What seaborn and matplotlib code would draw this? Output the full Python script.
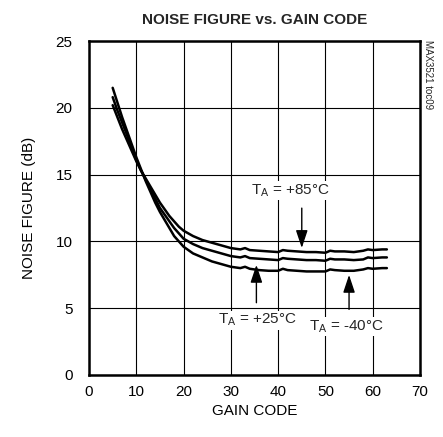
import pandas as pd
import matplotlib.pyplot as plt
import seaborn as sns
from matplotlib import font_manager

sns.set_theme(style="white")
fams = {f.name for f in font_manager.fontManager.ttflist}
base_font = "Liberation Sans Narrow" if "Liberation Sans Narrow" in fams else "Liberation Sans"
plt.rcParams["font.family"] = [base_font, "DejaVu Sans"]
plt.rcParams["mathtext.fontset"] = "custom"
plt.rcParams["mathtext.rm"] = base_font
plt.rcParams["mathtext.it"] = base_font

# gain code points
gain_code = [5, 6, 7, 8, 9, 10, 11, 12, 13, 14, 15, 16, 17, 18, 19, 20, 22, 24, 26, 28, 30,
             32, 33, 34, 36, 38, 40, 41, 42, 44, 46, 48, 50, 51, 52, 54, 56, 58, 59, 60, 62, 63]

nf_85 = [20.2, 19.3, 18.4, 17.6, 16.8, 16.0, 15.3, 14.7, 14.1, 13.5, 12.9, 12.4, 11.9, 11.5, 11.1,
         10.8, 10.4, 10.1, 9.9, 9.7, 9.5, 9.4, 9.5, 9.35, 9.3, 9.25, 9.2, 9.35, 9.3, 9.25, 9.2,
         9.2, 9.15, 9.3, 9.25, 9.25, 9.2, 9.3, 9.4, 9.35, 9.4, 9.4]
nf_25 = [20.8, 19.8, 18.9, 18.0, 17.0, 16.1, 15.3, 14.6, 13.9, 13.2, 12.5, 12.0, 11.5, 11.0, 10.6,
         10.2, 9.8, 9.5, 9.3, 9.1, 8.9, 8.8, 8.9, 8.75, 8.7, 8.65, 8.6, 8.75, 8.7, 8.65, 8.6,
         8.6, 8.55, 8.7, 8.65, 8.65, 8.6, 8.65, 8.8, 8.75, 8.8, 8.8]
nf_m40 = [21.5, 20.4, 19.3, 18.3, 17.3, 16.3, 15.4, 14.5, 13.7, 12.9, 12.2, 11.6, 11.0, 10.4, 10.0,
          9.6, 9.1, 8.8, 8.5, 8.3, 8.1, 8.0, 8.1, 7.95, 7.85, 7.8, 7.8, 7.95, 7.85, 7.8, 7.75,
          7.75, 7.75, 7.9, 7.85, 7.8, 7.8, 7.9, 8.0, 7.95, 8.0, 8.0]

df = pd.concat([
    pd.DataFrame({"code": gain_code, "nf": nf_85, "temp": "+85"}),
    pd.DataFrame({"code": gain_code, "nf": nf_25, "temp": "+25"}),
    pd.DataFrame({"code": gain_code, "nf": nf_m40, "temp": "-40"}),
], ignore_index=True)

fig = plt.figure(figsize=(4.43, 4.37), dpi=100)
ax = fig.add_axes([0.201, 0.142, 0.747, 0.764])

sns.lineplot(data=df, x="code", y="nf", hue="temp", palette=["black"] * 3,
             linewidth=1.8, legend=False, ax=ax)

ax.set_xlim(0, 70)
ax.set_ylim(0, 25)
ax.set_xticks(range(0, 71, 10))
ax.set_yticks(range(0, 26, 5))
ax.grid(True, color="black", linewidth=0.8)
for s in ax.spines.values():
    s.set_color("black")
    s.set_linewidth(1.8)
ax.tick_params(length=0, labelsize=11, colors="black")
ax.tick_params(axis="x", pad=7)
ax.tick_params(axis="y", pad=12)
ax.set_xlabel("GAIN CODE", fontsize=11, color="black", labelpad=4)
ax.set_ylabel("NOISE FIGURE (dB)", fontsize=11, color="black", labelpad=14)
ax.set_title("NOISE FIGURE vs. GAIN CODE", fontsize=11, fontweight="bold", pad=12)

arrow = dict(arrowstyle="-|>,head_length=0.9,head_width=0.3", color="black", lw=1.0)
box = dict(facecolor="white", edgecolor="none", pad=1)
ax.annotate("", xy=(45, 9.3), xytext=(45, 12.7), arrowprops=arrow)
ax.text(42.5, 13.8, "T$_\\mathregular{A}$ = +85°C", ha="center", va="center", fontsize=11, bbox=box)
ax.annotate("", xy=(35.4, 8.45), xytext=(35.4, 5.2), arrowprops=arrow)
ax.text(35.5, 4.1, "T$_\\mathregular{A}$ = +25°C", ha="center", va="center", fontsize=11, bbox=box)
ax.annotate("", xy=(55, 7.7), xytext=(55, 4.7), arrowprops=arrow)
ax.text(54.5, 3.6, "T$_\\mathregular{A}$ = -40°C", ha="center", va="center", fontsize=11, bbox=box)

fig.text(0.966, 0.908, "MAX3521 toc09", rotation=270, ha="center", va="top", fontsize=7)

fig.savefig("out.png", dpi=100)
